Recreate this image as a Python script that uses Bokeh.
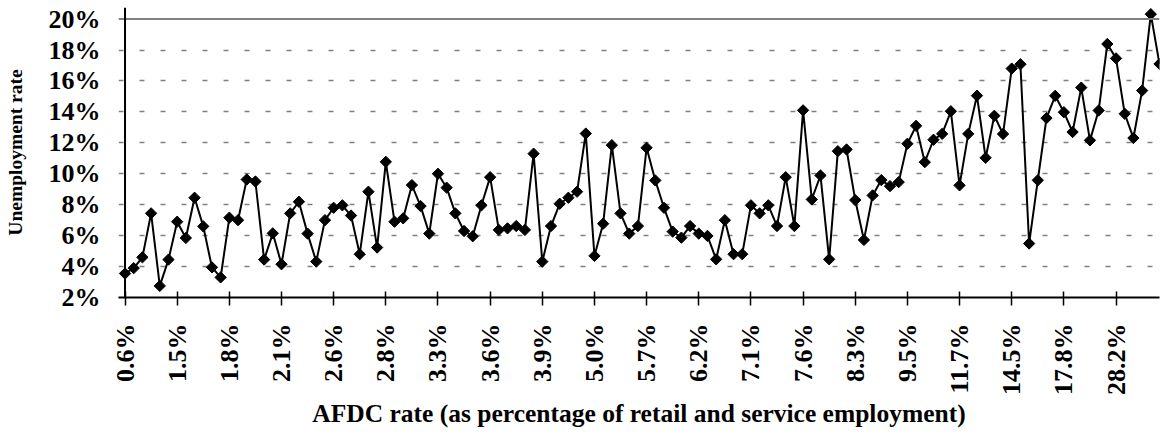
from math import pi
from bokeh.plotting import figure
from bokeh.models import FixedTicker, PrintfTickFormatter, Span, Range1d, ColumnDataSource
from bokeh.embed import file_html
from bokeh.resources import INLINE

# Tick labels shown on the category axis (every 6th AFDC-rate category)
x_tick_labels = ["0.6%", "1.5%", "1.8%", "2.1%", "2.6%", "2.8%", "3.3%", "3.6%", "3.9%", "5.0%",
                 "5.7%", "6.2%", "7.1%", "7.6%", "8.3%", "9.5%", "11.7%", "14.5%", "17.8%", "28.2%"]
tick_every = 6

# Unemployment rate (%) for each category, sorted by AFDC rate
unemployment = [
    3.55, 3.9, 4.6, 7.44, 2.75, 4.45, 6.9, 5.85, 8.45, 6.6,
    3.95, 3.3, 7.16, 7.0, 9.63, 9.5, 4.45, 6.15, 4.15, 7.44,
    8.19, 6.13, 4.32, 7.0, 7.8, 7.96, 7.3, 4.8, 8.84, 5.23,
    10.77, 6.9, 7.12, 9.27, 7.91, 6.13, 10.0, 9.1, 7.44, 6.3,
    5.96, 7.96, 9.78, 6.37, 6.47, 6.62, 6.37, 11.3, 4.32, 6.62,
    8.06, 8.45, 8.84, 12.6, 4.69, 6.77, 11.85, 7.44, 6.13, 6.62,
    11.68, 9.57, 7.8, 6.26, 5.87, 6.62, 6.13, 5.98, 4.47, 7.0,
    4.8, 4.8, 7.96, 7.44, 7.96, 6.62, 9.78, 6.62, 14.1, 8.34,
    9.89, 4.47, 11.46, 11.57, 8.3, 5.72, 8.6, 9.59, 9.2, 9.46,
    11.94, 13.1, 10.75, 12.2, 12.58, 14.04, 9.25, 12.58, 15.05, 11.03,
    13.75, 12.57, 16.8, 17.08, 5.49, 9.58, 13.6, 15.04, 13.98, 12.7,
    15.57, 12.16, 14.09, 18.39, 17.46, 13.88, 12.31, 15.38, 20.32, 17.1,
]
category_index = list(range(len(unemployment)))
y_ticks = [2, 4, 6, 8, 10, 12, 14, 16, 18, 20]
x_title = "AFDC rate (as percentage of retail and service employment)"
y_title = "Unemployment rate"

FONT = "Liberation Serif"

src = ColumnDataSource(data=dict(x=category_index, y=unemployment))

p = figure(width=1161, height=437, output_backend="svg", toolbar_location=None,
           x_range=Range1d(-0.75, len(unemployment) - 1),
           y_range=Range1d(2, 20.75),
           min_border_left=118, min_border_right=2, min_border_top=7, min_border_bottom=140,
           background_fill_color="white", border_fill_color="white")
p.outline_line_color = None

# grid
p.xgrid.visible = False
p.ygrid.ticker = FixedTicker(ticks=y_ticks[1:-1])
p.ygrid.grid_line_color = "#808080"
p.ygrid.grid_line_width = 1.5
p.ygrid.grid_line_dash = "5 16"

# top border line at 20% and left axis line at first category
p.add_layout(Span(location=y_ticks[-1], dimension="width", line_color="#808080", line_width=2))
p.add_layout(Span(location=category_index[0], dimension="height", line_color="black", line_width=2))

# data
p.line("x", "y", source=src, line_color="black", line_width=2)
p.scatter("x", "y", source=src, marker="square", angle=pi / 4, size=8,
          fill_color="black", line_color="black")

# y axis
ya = p.yaxis[0]
ya.ticker = FixedTicker(ticks=y_ticks)
ya.formatter = PrintfTickFormatter(format="%d%%")
ya.axis_line_color = None
ya.major_tick_line_color = None
ya.minor_tick_line_color = None
ya.major_tick_out = 0
ya.major_tick_in = 0
ya.major_label_standoff = 18
ya.major_label_text_font = FONT
ya.major_label_text_font_style = "bold"
ya.major_label_text_font_size = "26px"
ya.major_label_text_color = "black"
ya.axis_label = y_title
ya.axis_label_text_font = FONT
ya.axis_label_text_font_style = "bold"
ya.axis_label_text_font_size = "19.5px"
ya.axis_label_text_color = "black"
ya.axis_label_standoff = 20

# x axis
xa = p.xaxis[0]
tick_pos = [i * tick_every for i in range(len(x_tick_labels))]
xa.ticker = FixedTicker(ticks=tick_pos)
xa.major_label_overrides = {t: lab for t, lab in zip(tick_pos, x_tick_labels)}
xa.major_label_orientation = pi / 2
xa.axis_line_color = "black"
xa.axis_line_width = 2
xa.major_tick_line_color = "black"
xa.major_tick_line_width = 1.5
xa.major_tick_in = 6
xa.major_tick_out = 8
xa.minor_tick_line_color = None
xa.major_label_standoff = 18
xa.major_label_text_font = FONT
xa.major_label_text_font_style = "bold"
xa.major_label_text_font_size = "26px"
xa.major_label_text_color = "black"
xa.axis_label = x_title
xa.axis_label_text_font = FONT
xa.axis_label_text_font_style = "bold"
xa.axis_label_text_font_size = "25.5px"
xa.axis_label_text_color = "black"
xa.axis_label_standoff = 1

open("out.html", "w").write(file_html(p, INLINE))
